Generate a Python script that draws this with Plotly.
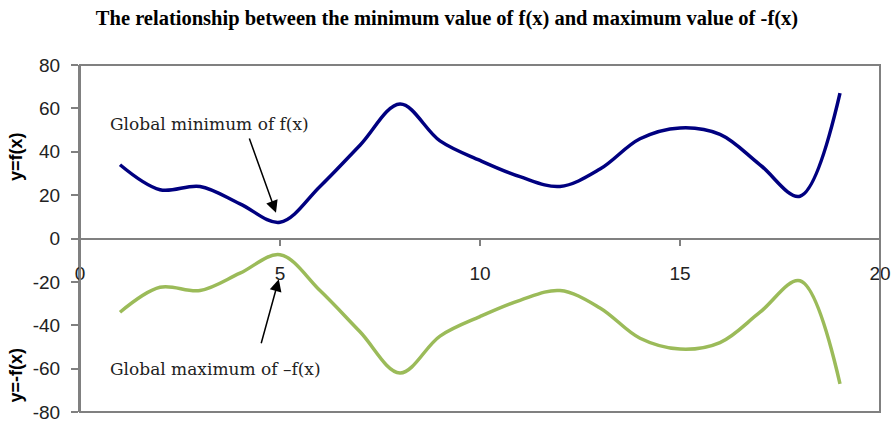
import plotly.graph_objects as go

x = list(range(1, 20))
fx = [34, 22.5, 24, 16, 7.5, 24, 43, 62, 45, 36, 28.5, 24, 32, 46, 51, 48, 34, 19.5, 67]
neg_fx = [-v for v in fx]

x_ticks = [0, 5, 10, 15, 20]
y_ticks = [-80, -60, -40, -20, 0, 20, 40, 60, 80]
y_tick_text = [str(v) for v in y_ticks]

L, R, T, B = 80, 14, 65, 11

fig = go.Figure()
fig.add_trace(go.Scatter(x=x, y=fx, mode="lines", line=dict(color="#000080", width=3.5, shape="spline", smoothing=1.0)))
fig.add_trace(go.Scatter(x=x, y=neg_fx, mode="lines", line=dict(color="#9BBB59", width=3.5, shape="spline", smoothing=1.0)))

fig.update_layout(
    width=894, height=423,
    margin=dict(l=L, r=R, t=T, b=B),
    plot_bgcolor="white", paper_bgcolor="white",
    showlegend=False,
    title=dict(
        text="<b>The relationship between the minimum value of f(x) and maximum value of -f(x)</b>",
        x=0.5, xanchor="center", y=1 - 18 / 423, yanchor="middle",
        font=dict(family="Liberation Serif", size=20.5, color="black"),
    ),
    xaxis=dict(
        range=[0, 20], tickvals=x_ticks, anchor="free", position=0.5,
        showline=True, linecolor="#808080", linewidth=2,
        ticks="outside", ticklen=6, tickcolor="#808080", tickwidth=1.5,
        ticklabelstandoff=12, ticklabeloverflow="allow",
        showgrid=False, zeroline=False, automargin=False,
        tickfont=dict(family="Arial", size=19, color="#222"),
    ),
    yaxis=dict(
        range=[-80, 80], tickvals=y_ticks, ticktext=y_tick_text,
        showline=True, linecolor="#808080", linewidth=2,
        ticks="outside", ticklen=7, tickcolor="#808080", tickwidth=1.5,
        ticklabelstandoff=7, ticklabeloverflow="allow",
        showgrid=False, zeroline=False, automargin=False,
        tickfont=dict(family="Arial", size=19, color="#222"),
    ),
)

# frame around plot area
fig.add_shape(type="rect", xref="paper", yref="paper", x0=0, x1=1, y0=0, y1=1,
              line=dict(color="#808080", width=2))

# axis titles
title_font = dict(family="Arial", size=18, color="black")
fig.add_annotation(text="<b>y=f(x)</b>", xref="paper", yref="paper", x=-0.08, y=0.735,
                   xanchor="center", yanchor="middle", textangle=-90, showarrow=False, font=title_font)
fig.add_annotation(text="<b>y=-f(x)</b>", xref="paper", yref="paper", x=-0.08, y=0.105,
                   xanchor="center", yanchor="middle", textangle=-90, showarrow=False, font=title_font)

# labels and arrows
label_font = dict(family="DejaVu Serif", size=17, color="#222")
fig.add_annotation(text="Global minimum of f(x)", x=3.24, y=53, xref="x", yref="y",
                   showarrow=False, font=label_font)
fig.add_annotation(text="Global maximum of –f(x)", x=3.39, y=-60, xref="x", yref="y",
                   showarrow=False, font=label_font)
fig.add_annotation(x=4.9, y=11.9, ax=4.22, ay=46.8, xref="x", yref="y", axref="x", ayref="y",
                   text="", showarrow=True, arrowhead=2, arrowsize=1.6, arrowwidth=1.5, arrowcolor="black")
fig.add_annotation(x=4.97, y=-18.8, ax=4.52, ay=-49, xref="x", yref="y", axref="x", ayref="y",
                   text="", showarrow=True, arrowhead=2, arrowsize=1.6, arrowwidth=1.5, arrowcolor="black")

fig.write_html("out.html", config={"displayModeBar": False},
               post_script="document.body.style.margin='0';")
